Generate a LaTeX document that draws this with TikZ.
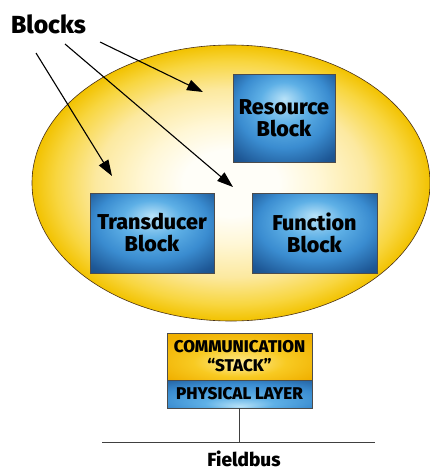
\documentclass[tikz,border=0pt]{standalone}
\usepackage{fontspec}
\setmainfont{Fira Sans}
\newfontfamily\hv{Fira Sans ExtraBold}
\usetikzlibrary{arrows.meta,shapes.geometric}
\definecolor{ellout}{HTML}{F2C200}
\definecolor{ellmid}{HTML}{F8D640}
\definecolor{ellmid2}{HTML}{FCE9A0}
\definecolor{ellin2}{HTML}{FFF7D6}
\definecolor{ellin}{HTML}{FFFEF8}
\definecolor{bl1}{HTML}{B8E2F8}
\definecolor{bl2}{HTML}{5EB0E6}
\definecolor{bl3}{HTML}{3A8CD0}
\definecolor{bl4}{HTML}{1E5896}
\definecolor{bl5}{HTML}{163F6E}
\definecolor{ye1}{HTML}{FDEB9A}
\definecolor{ye2}{HTML}{F8CA22}
\definecolor{ye3}{HTML}{F0B000}
\pgfdeclareradialshading{ellshade}{\pgfpoint{0bp}{0bp}}{color(0bp)=(ellin); color(6bp)=(ellin); color(11bp)=(ellin2); color(17bp)=(ellmid2); color(22bp)=(ellmid); color(25bp)=(ellout); color(50bp)=(ellout)}
\pgfdeclareradialshading{blockshade}{\pgfpoint{0bp}{11bp}}{color(0bp)=(bl1); color(12bp)=(bl2); color(23bp)=(bl3); color(34bp)=(bl4); color(44bp)=(bl5); color(50bp)=(bl5)}
\pgfdeclareradialshading{yelshade}{\pgfpoint{0bp}{-8bp}}{color(0bp)=(ye1); color(16bp)=(ye2); color(32bp)=(ye3); color(50bp)=(ye3)}
\pgfdeclareradialshading{physshade}{\pgfpoint{0bp}{-22bp}}{color(0bp)=(bl1); color(12bp)=(bl2); color(28bp)=(bl3); color(42bp)=(bl4); color(50bp)=(bl5)}
\begin{document}
\begin{tikzpicture}[x=1pt,y=-1pt,
  blockbox/.style={draw=black!70,line width=0.5pt,shading=blockshade,align=center,
    font=\hv\fontsize{21.5}{22}\selectfont,text=black,inner sep=0pt},
  stackbox/.style={draw=black!70,line width=0.5pt,minimum width=145pt,inner sep=0pt,align=center,
    font=\hv\fontsize{17}{19}\selectfont},
  ptr/.style={line width=1.1pt,-{Triangle[length=16pt,width=11pt]}},
  wire/.style={line width=0.8pt,draw=black!75}]
\useasboundingbox (0,0) rectangle (430,467);
\fill[white] (0,0) rectangle (430,467);
% ellipse
\node[ellipse,draw=black!60!brown,line width=0.6pt,shading=ellshade,minimum width=398pt,minimum height=276pt,inner sep=0pt] (dev) at (231,183) {};
% blocks
\node[blockbox,minimum width=102pt,minimum height=88pt] (res) at (284,118) {Resource\\Block};
\node[blockbox,minimum width=124pt,minimum height=80pt] (trans) at (152,233) {Transducer\\Block};
\node[blockbox,minimum width=125pt,minimum height=80pt] (func) at (314.5,233) {Function\\Block};
% label
\node[font=\hv\fontsize{24.7}{26}\selectfont,anchor=west,inner sep=0pt] (lbl) at (11,24) {Blocks};
% arrows
\coordinate (s1) at (36,53);
\coordinate (s2) at (65,44);
\coordinate (s3) at (100,42);
\coordinate (e1) at (112,176);
\coordinate (e2) at (233,187);
\coordinate (e3) at (203,92);
\draw[ptr] (s1) -- (e1);
\draw[ptr] (s2) -- (e2);
\draw[ptr] (s3) -- (e3);
% stack
\node[stackbox,shading=yelshade,minimum height=47pt] (comm) at (239.5,356.5) {COMMUNICATION\\“STACK”};
\node[stackbox,shading=physshade,minimum height=28pt] (phys) at (239.5,394) {PHYSICAL LAYER};
% fieldbus
\coordinate (bl) at (102,442);
\coordinate (br) at (375,442);
\coordinate (tap) at (phys.south |- bl);
\draw[wire] (bl) -- (br);
\draw[wire] (phys.south) -- (tap);
\node[font=\hv\fontsize{19}{20}\selectfont,inner sep=0pt,anchor=base] (fb) at (244,466) {Fieldbus};
\end{tikzpicture}
\end{document}
